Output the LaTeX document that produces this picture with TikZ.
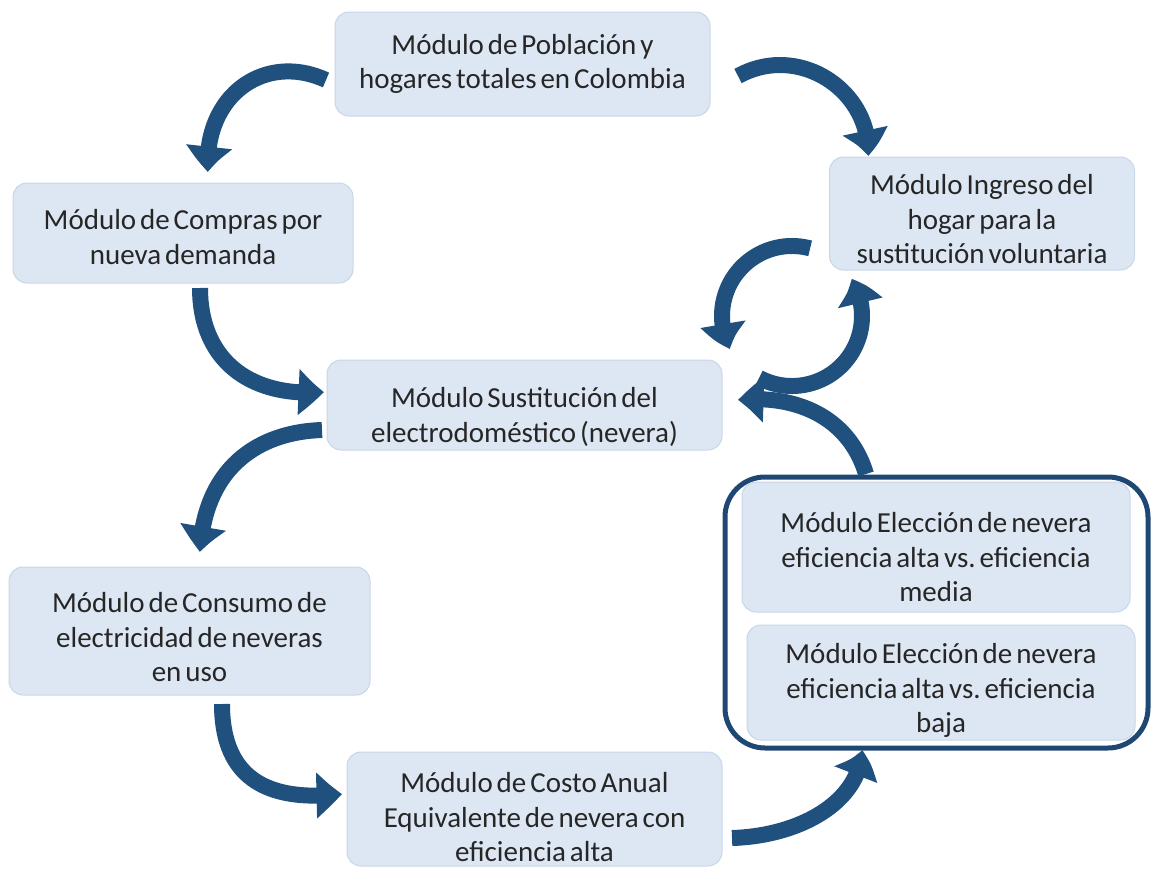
\documentclass[tikz,border=0pt]{standalone}
\usepackage{fontspec}
\setmainfont{Carlito}[WordSpace=0.6]
\usetikzlibrary{arrows.meta,bending,calc}
\frenchspacing
\definecolor{arrowblue}{RGB}{31,80,126}
\definecolor{boxfill}{RGB}{221,231,243}
\definecolor{boxline}{RGB}{200,214,232}
\definecolor{framecol}{RGB}{30,72,115}
\newcommand\tstr[1]{\rule{0pt}{#1pt}}
\newcommand\bstr{\rule[-4pt]{0pt}{4pt}}
\tikzset{
  modbox/.style={rectangle, rounded corners=14pt, fill=boxfill, draw=boxline, line width=1pt,
    align=center, inner sep=0pt, font=\fontsize{29}{34.5}\selectfont\frenchspacing, text=black!85},
  flow/.style={draw=arrowblue, line width=16pt, -{Triangle[width=44pt,length=26pt,bend]}},
  frame/.style={rectangle, rounded corners=40pt, draw=framecol, line width=5pt, fill=white}
}
\begin{document}
\begin{tikzpicture}[x=1pt,y=-1pt]
\useasboundingbox (0,0) rectangle (1152,870);
% outer frame
\node[frame, minimum width=423pt, minimum height=271pt] (grp) at (936.5,612.5) {};
% boxes
\node[modbox, minimum width=375pt, minimum height=104pt] (pob) at (522.5,64) {\tstr{20}Módulo de Población y\\hogares totales en Colombia\bstr};
\node[modbox, minimum width=340pt, minimum height=100pt] (com) at (183,233) {\tstr{32}Módulo de Compras por\\nueva demanda\bstr};
\node[modbox, minimum width=305pt, minimum height=113pt] (ing) at (982,213.5) {\tstr{35}Módulo Ingreso del\\hogar para la\\sustitución voluntaria\bstr};
\node[modbox, minimum width=395pt, minimum height=90pt] (sus) at (524.5,405) {\tstr{44}Módulo Sustitución del\\electrodoméstico (nevera)\bstr};
\node[modbox, minimum width=361pt, minimum height=128pt] (con) at (189.5,631) {\tstr{36}Módulo de Consumo de\\electricidad de neveras\\en uso\bstr};
\node[modbox, minimum width=375pt, minimum height=114pt] (cos) at (534.5,809) {\tstr{40}Módulo de Costo Anual\\Equivalente de nevera con\\eficiencia alta\bstr};
\node[modbox, minimum width=388pt, minimum height=130pt] (med) at (936,547) {\tstr{44}Módulo Elección de nevera\\eficiencia alta vs. eficiencia\\media\bstr};
\node[modbox, minimum width=388pt, minimum height=115pt] (baj) at (941,682.5) {\tstr{36}Módulo Elección de nevera\\eficiencia alta vs. eficiencia\\baja\bstr};
% arrow end coordinates
\coordinate (a1s) at (326,80);   \coordinate (a1e) at (208,172);
\coordinate (a2s) at (738,76);   \coordinate (a2e) at (868,156);
\coordinate (a3s) at (200,288);  \coordinate (a3e) at (324,392);
\coordinate (a4s) at (322,430);  \coordinate (a4e) at (200,552);
\coordinate (a5s) at (222,704);  \coordinate (a5e) at (342,794);
\coordinate (a6s) at (732,838);  \coordinate (a6e) at (862,750);
\coordinate (a7s) at (866,474);  \coordinate (a7e) at (738,400);
\coordinate (cc) at (792,316);
\coordinate (a8s) at ($(cc)+(-75:70)$);
\coordinate (a9s) at ($(cc)+(118:70)$);
% arrows
\draw[flow] (a1s) .. controls (265,52) and (203,95) .. (a1e);
\draw[flow] (a2s) .. controls (800,42) and (872,92) .. (a2e);
\draw[flow] (a3s) .. controls (200,360) and (250,398) .. (a3e);
\draw[flow] (a4s) .. controls (258,432) and (204,468) .. (a4e);
\draw[flow] (a5s) .. controls (222,782) and (272,802) .. (a5e);
\draw[flow] (a6s) .. controls (800,836) and (860,802) .. (a6e);
\draw[flow] (a7s) .. controls (850,420) and (800,394) .. (a7e);
\draw[flow] (a8s) arc[start angle=-75, end angle=-208, radius=70];
\draw[flow] (a9s) arc[start angle=118, end angle=-32, radius=70];
\end{tikzpicture}
\end{document}
